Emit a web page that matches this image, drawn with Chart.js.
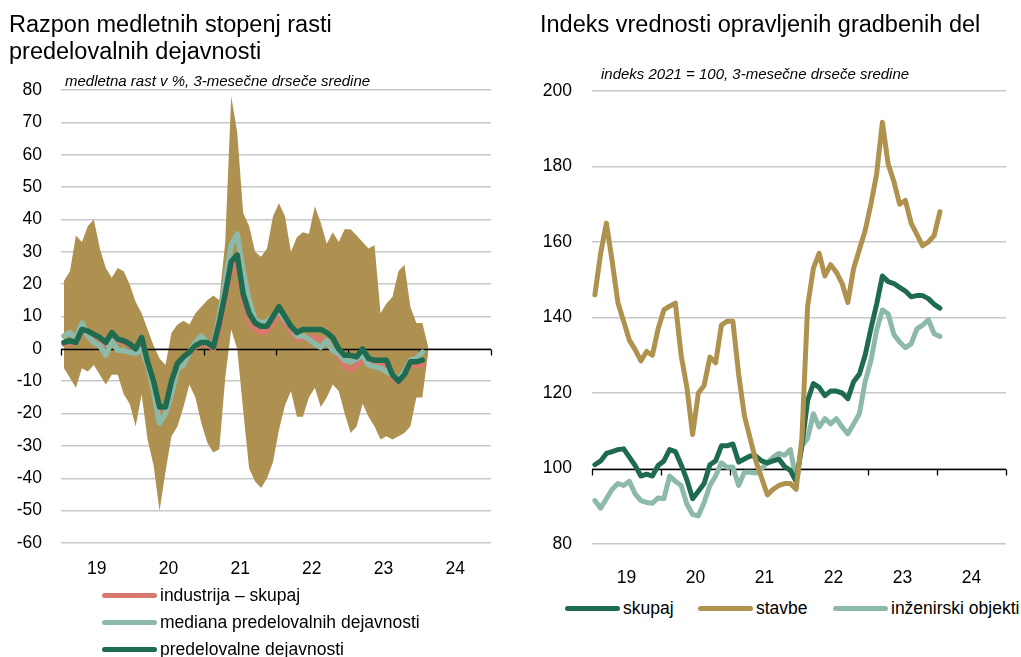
<!DOCTYPE html>
<html>
<head>
<meta charset="utf-8">
<script src="https://cdn.jsdelivr.net/npm/chart.js@4.4.0/dist/chart.umd.min.js"></script>
<style>
body{margin:0;width:1021px;height:657px;position:relative;overflow:hidden;background:#fff;font-family:"Liberation Sans",Arial,sans-serif;color:#000}
canvas{position:absolute;top:0}
.naslov{position:absolute;font-size:23.5px;line-height:27px;white-space:nowrap}
.podnaslov{position:absolute;font-size:15px;line-height:17px;font-style:italic;white-space:nowrap}
.leg{position:absolute;font-size:17.5px;line-height:26px;display:flex;align-items:center;white-space:nowrap}
.leg i{display:inline-block;width:55px;height:5px;border-radius:3px;margin-right:3px}
</style>
</head>
<body>
<canvas id="levi" width="510" height="590" style="left:0"></canvas>
<canvas id="desni" width="511" height="590" style="left:510px"></canvas>

<div class="naslov" style="left:9px;top:11px">Razpon medletnih stopenj rasti<br>predelovalnih dejavnosti</div>
<div class="podnaslov" style="left:65px;top:72px">medletna rast v %, 3-mesečne drseče sredine</div>
<div class="naslov" style="left:540px;top:11px">Indeks vrednosti opravljenih gradbenih del</div>
<div class="podnaslov" style="left:601px;top:65px">indeks 2021 = 100, 3-mesečne drseče sredine</div>

<div class="leg" style="left:102px;top:582px"><i style="background:#d9786c"></i>industrija – skupaj</div>
<div class="leg" style="left:102px;top:609px"><i style="background:#8db9a9"></i>mediana predelovalnih dejavnosti</div>
<div class="leg" style="left:102px;top:636px"><i style="background:#1e6b4f"></i>predelovalne dejavnosti</div>

<div class="leg" style="left:565px;top:595px"><i style="background:#1e6b4f"></i>skupaj</div>
<div class="leg" style="left:698px;top:595px"><i style="background:#b0924f"></i>stavbe</div>
<div class="leg" style="left:833px;top:595px"><i style="background:#8db9a9"></i>inženirski objekti</div>

<script>
// meseci od januarja 2019 naprej (indeks 0 = jan 2019)
var leto = ["19", "20", "21", "22", "23", "24"]

// levi graf: razpon medletnih stopenj rasti
var razponMax = [21, 24, 35, 33, 38, 40, 31, 25, 22, 25, 24, 20, 14.5, 11, 6, 1, -3, -5, 5, 7.5,
  8.7, 7.5, 11, 13, 15, 16.5, 15, 33, 78, 67, 42, 38, 30, 28.5, 31, 41, 45, 41, 30, 34.5,
  36, 35.5, 44, 39, 32.5, 36, 33, 37, 37, 35, 33, 31, 32, 11, 14, 16, 24, 26, 13, 8, 8, 0.5]
var razponMin = [-6, -9, -12, -6, -7, -5, -8, -11, -8, -8, -14, -17, -24, -14, -28, -36, -50, -38, -27, -24,
  -18, -11, -15, -23, -29, -32, -31, -9, 6, 0, -19, -37, -41, -43, -40, -35, -25, -17.5, -13, -21,
  -21, -15, -12, -18, -15, -11, -13, -20, -26, -24, -17, -21, -24, -28, -27, -28, -27, -26, -24, -15, -15, -1]
var industrija = [1.5, 2, 2, 5.5, 5, 4, 3, 1.5, 4, 2.5, 2, 1, -0.5, 3, -4.5, -11, -18.5, -18, -10.5, -5,
  -3, -1.5, 0.5, 1.5, 1.5, 0, 6, 15, 25, 27, 15, 9, 6, 5, 5.5, 8, 11, 8, 5.5, 3,
  3, 3.5, 3.5, 3, 2.5, 0, -2, -5.5, -6.5, -5, -3.5, -3.5, -4.5, -5, -5.5, -8.5, -10.5, -7, -5, -5, -5]
var mediana = [4, 5, 3, 8, 4, 2, 1, -2, 2.5, -0.5, -0.5, -1, -1.5, 0, -5, -13, -23, -20, -14, -6,
  -5, -1, 2, 4, 2, 1, 10, 21, 32, 35.5, 24, 15, 9, 8, 8.5, 10, 12, 9, 7, 4,
  4, 3, 1.5, 0.5, 2.5, -0.5, -1.5, -3.5, -4, -3, -2, -5, -5.5, -6, -7, -8, -9.5, -7, -3.5, -3, -1]
var predelovalne = [2, 2.5, 2, 6, 5.5, 4.5, 3.5, 2, 5, 3, 2.5, 1.5, 0, 3.5, -4, -10, -18, -18, -10, -4.5,
  -2.5, -1, 1, 2, 2, 0.5, 8, 17, 27, 29, 17, 11, 8, 7, 7, 10, 13, 10, 7, 5,
  6, 6, 6, 6, 5, 3.5, 0, -2, -2, -2.5, 0, -3, -3.5, -3.5, -3.5, -8, -10, -8, -4, -4, -3.5]

// desni graf: indeks vrednosti opravljenih gradbenih del
var skupaj = [101, 102, 104, 104.5, 105, 105.2, 103, 100.8, 98, 98.5, 98, 100.8, 102, 105, 104.5, 101, 97, 92, 94, 96,
  101, 102, 106, 106, 106.5, 101.7, 102.5, 103.3, 103.3, 102, 101.5, 102, 102.5, 100.5, 99.5, 96.5, 106, 118, 122.5, 121.5,
  119.3, 120.5, 120.5, 120, 118.5, 123, 125, 130, 137, 143.5, 151, 149.5, 149, 148, 147, 145.5, 145.8, 145.8, 145, 143.5, 142.5]
var stavbe = [146, 157, 165, 155, 144, 139, 134, 131.5, 128.5, 131, 130, 137, 142, 143, 143.8, 130, 121.5, 109, 120, 122,
  129.5, 128, 138, 139, 139, 125, 114, 108, 102, 97.5, 93, 94.5, 95.5, 96, 96, 94.5, 108, 143, 153, 157,
  151, 154, 152, 149, 144, 153, 158, 163, 170, 178, 191.7, 180.7, 176, 170, 171, 165, 162, 159, 160, 161.7, 168]
var inzenirski = [91.5, 89.5, 92, 94.5, 96, 95.5, 96.6, 93.3, 91.5, 91, 90.8, 92.2, 92, 98, 96.6, 95.5, 90.6, 87.8, 87.5, 91,
  95.5, 98, 101.5, 100.3, 100.4, 95.5, 99, 99, 98.8, 100, 101.5, 103, 104, 103.5, 105, 97, 106, 108, 114.5, 111,
  113.2, 111.8, 113.2, 111, 109.2, 111.8, 114.5, 123, 128.5, 136.6, 142, 141, 135.5, 133.5, 132, 133, 137, 138, 139.4, 135.7, 135]

function tocke (arr) {
  return arr.map(function (v, i) { return { x: i, y: v } })
}

// vodoravna os pri 0 oz. 100 z oznakami na meji let
var nicla = {
  id: "nicla",
  beforeDatasetDraw: function (chart, args, o) {
    if (args.index !== o.index) return
    var ctx = chart.ctx, a = chart.chartArea
    var x = chart.scales.x, y = chart.scales.y
    var yy = Math.round(y.getPixelForValue(o.value)) + 0.5
    ctx.save()
    ctx.strokeStyle = "#000"
    ctx.lineWidth = 1.3
    ctx.beginPath()
    ctx.moveTo(a.left, yy)
    ctx.lineTo(a.right, yy)
    for (var k = 0; k <= 6; k++) {
      var xx = Math.round(x.getPixelForValue(12 * k - 0.5)) + 0.5
      ctx.moveTo(xx, yy)
      ctx.lineTo(xx, yy + 6)
    }
    ctx.stroke()
    ctx.restore()
  }
}

function osi (ymin, ymax, korak, sirinaY, visinaX, padY, padX) {
  return {
    x: {
      type: "linear", min: -0.5, max: 71.5,
      grid: { display: false }, border: { display: false },
      afterBuildTicks: function (s) { s.ticks = leto.map(function (l, k) { return { value: 12 * k + 5.5 } }) },
      afterFit: function (s) { s.height = visinaX },
      ticks: { padding: padX, color: "#000", font: { size: 17.5 }, maxRotation: 0, autoSkip: false,
        callback: function (v, k) { return leto[k] } }
    },
    y: {
      min: ymin, max: ymax,
      afterFit: function (s) { s.width = sirinaY },
      grid: { color: "#c8c8c8", lineWidth: 1.5, drawTicks: false }, border: { display: false },
      ticks: { stepSize: korak, padding: padY, color: "#000", font: { size: 17.5 } }
    }
  }
}

Chart.defaults.font.family = "'Liberation Sans', Arial, sans-serif"

new Chart(document.getElementById("levi"), {
  type: "line",
  data: {
    datasets: [
      { label: "predelovalne dejavnosti", data: tocke(predelovalne), borderColor: "#1e6b4f", borderWidth: 5.5, order: 0 },
      { label: "mediana predelovalnih dejavnosti", data: tocke(mediana), borderColor: "#8db9a9", borderWidth: 5.5, order: 1 },
      { label: "industrija – skupaj", data: tocke(industrija), borderColor: "#d9786c", borderWidth: 5.5, order: 2 },
      { label: "max", data: tocke(razponMax), borderWidth: 0, backgroundColor: "#ae9150", fill: "+1", order: 3 },
      { label: "min", data: tocke(razponMin), borderWidth: 0, fill: false, order: 4 }
    ]
  },
  options: {
    responsive: false, animation: false, devicePixelRatio: 1,
    layout: { padding: { top: 90, right: 19, left: 0, bottom: 0 } },
    elements: { point: { radius: 0 }, line: { tension: 0, borderCapStyle: "round", borderJoinStyle: "round" } },
    plugins: { legend: { display: false }, tooltip: { enabled: false }, nicla: { value: 0, index: 2 } },
    scales: osi(-60, 80, 10, 61, 47, 19, 8)
  },
  plugins: [nicla]
})

new Chart(document.getElementById("desni"), {
  type: "line",
  data: {
    datasets: [
      { label: "stavbe", data: tocke(stavbe), borderColor: "#b0924f", borderWidth: 5, order: 0 },
      { label: "skupaj", data: tocke(skupaj), borderColor: "#1e6b4f", borderWidth: 5, order: 1 },
      { label: "inženirski objekti", data: tocke(inzenirski), borderColor: "#8db9a9", borderWidth: 5, order: 2 }
    ]
  },
  options: {
    responsive: false, animation: false, devicePixelRatio: 1,
    layout: { padding: { top: 91, right: 15, left: 0, bottom: 0 } },
    elements: { point: { radius: 0 }, line: { tension: 0, borderCapStyle: "round", borderJoinStyle: "round" } },
    plugins: { legend: { display: false }, tooltip: { enabled: false }, nicla: { value: 100, index: 2 } },
    scales: osi(80, 200, 20, 82, 46, 20, 15.5)
  },
  plugins: [nicla]
})
</script>
</body>
</html>
